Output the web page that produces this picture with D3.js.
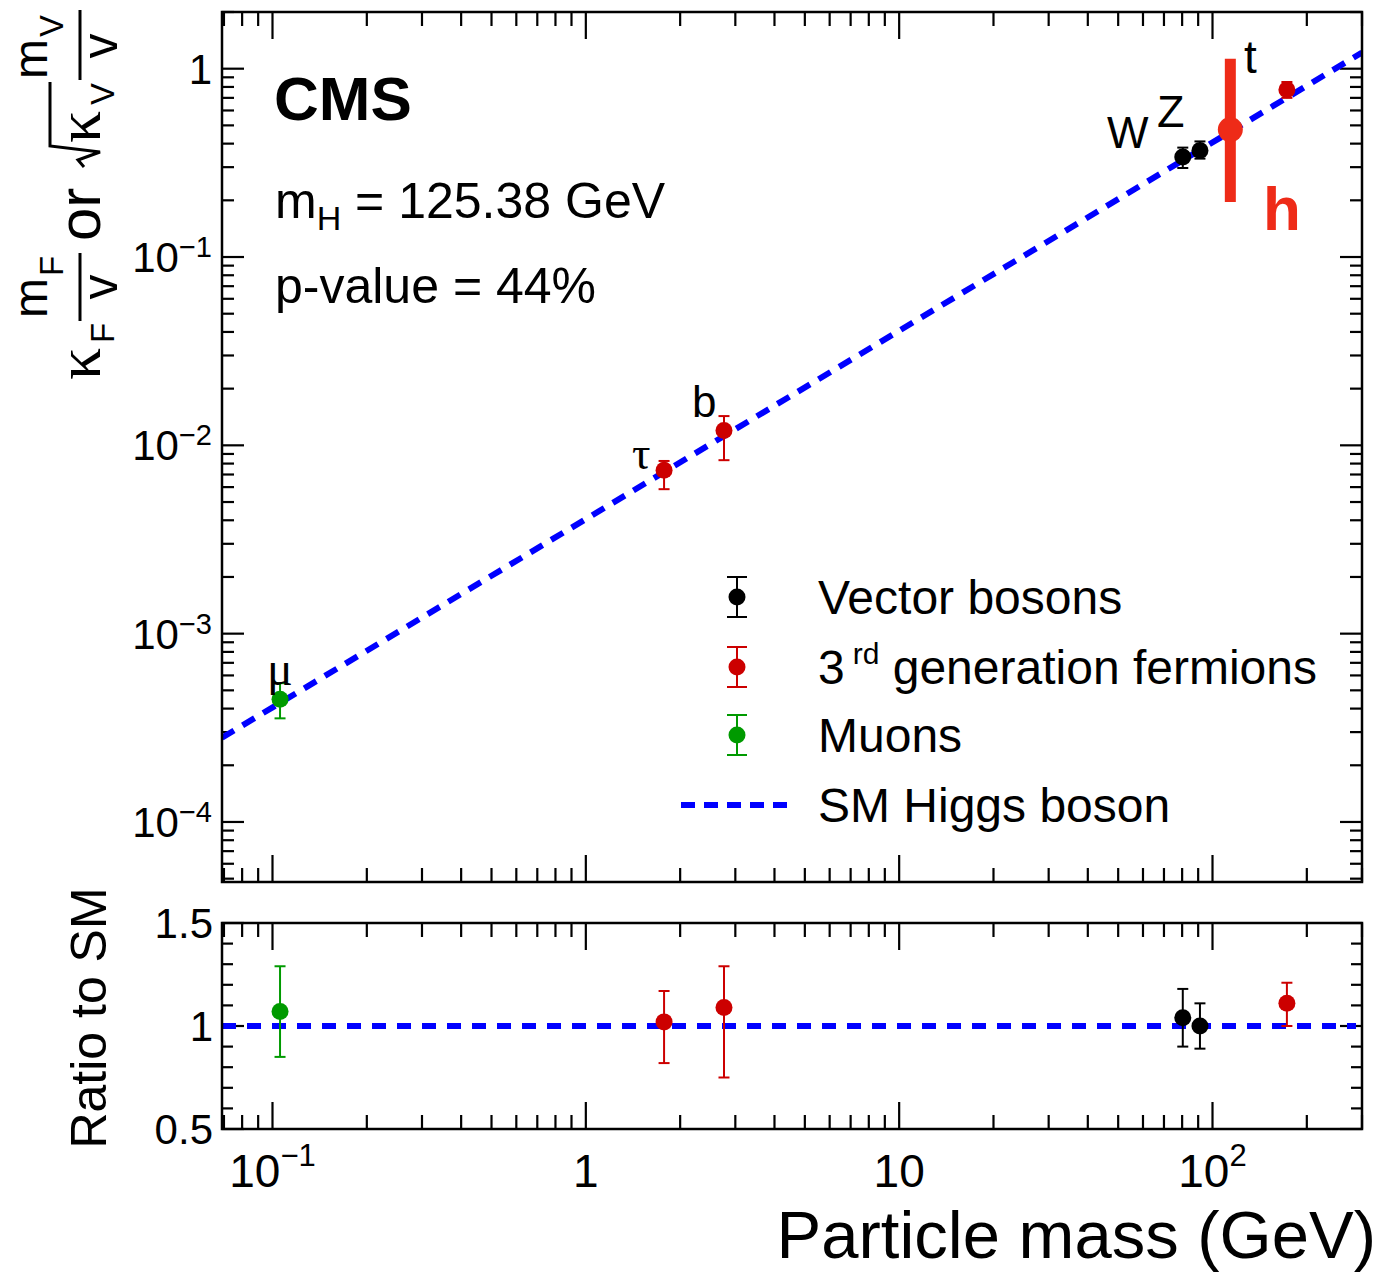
<!DOCTYPE html>
<html>
<head>
<meta charset="utf-8">
<script src="https://cdn.jsdelivr.net/npm/d3@7"></script>
<style>
  body { margin: 0; background: #fff; }
  svg { display: block; font-family: "Liberation Sans", Arial, Helvetica, sans-serif; }
  .greek { font-family: "Liberation Serif", "DejaVu Serif", serif; }
</style>
</head>
<body>
<svg id="chart" width="1383" height="1272"></svg>
<script>
// ---- data ----
var particles = ["μ", "τ", "b", "W", "Z", "t"];
var masses    = [0.1057, 1.777, 2.76, 80.38, 91.19, 172.76];
var groups    = ["muon", "fermion", "fermion", "boson", "boson", "fermion"];

// upper panel: kappa_F m_F / v  or  sqrt(kappa_V) m_V / v
var coupling   = [4.48e-4, 7.38e-3, 1.20e-2, 0.340, 0.368, 0.774];
var couplingHi = [5.46e-4, 8.26e-3, 1.43e-2, 0.381, 0.411, 0.850];
var couplingLo = [3.55e-4, 5.85e-3, 8.34e-3, 0.297, 0.333, 0.700];

// lower panel: ratio to SM
var ratio   = [1.07, 1.02, 1.09, 1.04, 1.00, 1.11];
var ratioHi = [1.29, 1.17, 1.29, 1.18, 1.11, 1.21];
var ratioLo = [0.85, 0.82, 0.75, 0.90, 0.89, 1.00];

// Higgs boson marker (drawn where the figure puts it)
var higgsMass = 114;
var higgsVal = 0.475, higgsLo = 0.196, higgsHi = 1.13;

// SM expectation line (end points)
var smMass  = [0.069, 300];
var smValue = [2.8e-4, 1.218];
var smRatio = [1, 1];

var groupColor = { boson: "#000000", fermion: "#cc0000", muon: "#009a00" };
var legendItems = [
  { key: "boson", text: "Vector bosons" },
  { key: "fermion", text: "3", sup: "rd", rest: " generation fermions" },
  { key: "muon", text: "Muons" }
];

var svg = d3.select("#chart");

// ---- layout ----
var L = 222, R = 1362;
var topT = 12, topB = 882, botT = 923, botB = 1129;

var x = d3.scaleLog().domain([0.069, 300]).range([L, R]);
var yTop = d3.scaleLog().domain([4.8e-5, 2]).range([topB, topT]);
var yBot = d3.scaleLinear().domain([0.5, 1.5]).range([botB, botT]);

var blue = "#0000ff";
var higgsRed = "#ee2b18";

// log ticks helper
function logTicks(scale) {
  var dom = scale.domain(), out = [];
  for (var e = -6; e <= 3; e++) {
    for (var k = 1; k <= 9; k++) {
      var v = k * Math.pow(10, e);
      if (v >= dom[0] && v <= dom[1]) out.push({ v: v, major: k === 1 });
    }
  }
  return out;
}

var xt = logTicks(x);

function drawXTicks(yb, yt) {
  var g = svg.append("g").attr("stroke", "#000").attr("stroke-width", 2.2);
  xt.forEach(function (t) {
    var len = t.major ? 27 : 14;
    var px = x(t.v);
    g.append("line").attr("x1", px).attr("x2", px).attr("y1", yb).attr("y2", yb - len);
    g.append("line").attr("x1", px).attr("x2", px).attr("y1", yt).attr("y2", yt + len);
  });
}

// ---- upper panel ----
drawXTicks(topB, topT);

var ytk = logTicks(yTop);
var gy = svg.append("g").attr("stroke", "#000").attr("stroke-width", 2.2);
ytk.forEach(function (t) {
  var len = t.major ? 22 : 12;
  var py = yTop(t.v);
  gy.append("line").attr("x1", L).attr("x2", L + len).attr("y1", py).attr("y2", py);
  gy.append("line").attr("x1", R).attr("x2", R - len).attr("y1", py).attr("y2", py);
});

// y tick labels (upper)
[[1, null], [0.1, "−1"], [0.01, "−2"], [0.001, "−3"], [0.0001, "−4"]].forEach(function (d) {
  var t = svg.append("text").attr("x", 212).attr("y", yTop(d[0]) + 15)
    .attr("text-anchor", "end").attr("font-size", 42);
  if (d[1] === null) { t.text("1"); }
  else {
    t.append("tspan").text("10");
    t.append("tspan").attr("dy", -15).attr("font-size", 29).text(d[1]);
  }
});

// SM line upper
svg.append("clipPath").attr("id", "clipTop")
  .append("rect").attr("x", L).attr("y", topT).attr("width", R - L).attr("height", topB - topT);
svg.append("line")
  .attr("clip-path", "url(#clipTop)")
  .attr("x1", x(smMass[0])).attr("y1", yTop(smValue[0]))
  .attr("x2", x(smMass[1])).attr("y2", yTop(smValue[1]))
  .attr("stroke", blue).attr("stroke-width", 6).attr("stroke-dasharray", "14,10");

// points with error bars
function drawPoints(yScale, vals, lo, hi) {
  var g = svg.append("g");
  masses.forEach(function (m, i) {
    var c = groupColor[groups[i]];
    var px = x(m);
    g.append("line").attr("x1", px).attr("x2", px)
      .attr("y1", yScale(lo[i])).attr("y2", yScale(hi[i]))
      .attr("stroke", c).attr("stroke-width", 2);
    [lo[i], hi[i]].forEach(function (v) {
      g.append("line").attr("x1", px - 5.5).attr("x2", px + 5.5)
        .attr("y1", yScale(v)).attr("y2", yScale(v))
        .attr("stroke", c).attr("stroke-width", 2);
    });
    g.append("circle").attr("cx", px).attr("cy", yScale(vals[i])).attr("r", 8.5).attr("fill", c);
  });
}
drawPoints(yTop, coupling, couplingLo, couplingHi);

// Higgs marker
svg.append("line")
  .attr("x1", x(higgsMass)).attr("x2", x(higgsMass))
  .attr("y1", yTop(higgsLo)).attr("y2", yTop(higgsHi))
  .attr("stroke", higgsRed).attr("stroke-width", 11);
svg.append("circle").attr("cx", x(higgsMass)).attr("cy", yTop(higgsVal)).attr("r", 12.5).attr("fill", higgsRed);

// particle labels
var labelPos = {
  "μ": [267, 685, 48], "τ": [632, 469, 46], "b": [692, 417, 44],
  "W": [1107, 148, 44], "Z": [1157, 127, 45], "t": [1244, 73, 46]
};
particles.forEach(function (p) {
  var lp = labelPos[p];
  svg.append("text").attr("x", lp[0]).attr("y", lp[1]).attr("font-size", lp[2])
    .attr("class", /[a-zA-Z]/.test(p) ? null : "greek").text(p);
});
svg.append("text").attr("x", 1263).attr("y", 230).attr("font-size", 62)
  .attr("font-weight", "bold").attr("fill", higgsRed).text("h");

// CMS + info text
svg.append("text").attr("x", 274).attr("y", 120).attr("font-size", 62)
  .attr("font-weight", "bold").text("CMS");
var mh = svg.append("text").attr("x", 275).attr("y", 218).attr("font-size", 50);
mh.append("tspan").text("m");
mh.append("tspan").attr("dy", 12).attr("font-size", 34).text("H");
mh.append("tspan").attr("dy", -12).text(" = 125.38 GeV");
svg.append("text").attr("x", 275).attr("y", 303).attr("font-size", 50).text("p-value = 44%");

// legend
var legY = [597, 667, 735];
legendItems.forEach(function (it, i) {
  var c = groupColor[it.key], cy = legY[i];
  svg.append("line").attr("x1", 737).attr("x2", 737).attr("y1", cy - 20).attr("y2", cy + 20)
    .attr("stroke", c).attr("stroke-width", 2);
  [cy - 20, cy + 20].forEach(function (yy) {
    svg.append("line").attr("x1", 727).attr("x2", 747).attr("y1", yy).attr("y2", yy)
      .attr("stroke", c).attr("stroke-width", 2);
  });
  svg.append("circle").attr("cx", 737).attr("cy", cy).attr("r", 8.5).attr("fill", c);
  var t = svg.append("text").attr("x", 818).attr("y", cy + 17).attr("font-size", 48);
  t.append("tspan").text(it.text);
  if (it.sup) {
    t.append("tspan").attr("dx", 8).attr("dy", -20).attr("font-size", 30).text(it.sup);
    t.append("tspan").attr("dy", 20).text(it.rest);
  }
});
svg.append("line").attr("x1", 681).attr("x2", 795).attr("y1", 805).attr("y2", 805)
  .attr("stroke", blue).attr("stroke-width", 6).attr("stroke-dasharray", "14,9");
svg.append("text").attr("x", 818).attr("y", 822).attr("font-size", 48).text("SM Higgs boson");

// upper y title (rotated)
var yt = svg.append("g").attr("transform", "rotate(-90)");
function rt(txt, rx, ry, size, anchor, cls) {
  return yt.append("text").attr("x", rx).attr("y", ry).attr("font-size", size)
    .attr("class", cls || null)
    .attr("text-anchor", anchor || "start").text(txt);
}
rt("κ", -380, 100, 64, "start", "greek");
rt("F", -343, 114, 33);
rt("m", -318, 47, 48);
rt("F", -276, 63, 33);
yt.append("line").attr("x1", -321).attr("x2", -253).attr("y1", 80).attr("y2", 80)
  .attr("stroke", "#000").attr("stroke-width", 3);
rt("v", -287, 117, 50, "middle");
rt("or", -241, 100, 60);
yt.append("path").attr("d", "M-167,84 L-160,78 L-152,100 L-146,50 L-82,50")
  .attr("fill", "none").attr("stroke", "#000").attr("stroke-width", 3);
rt("κ", -143, 100, 64, "start", "greek");
rt("V", -105, 114, 33);
rt("m", -79, 47, 48);
rt("V", -37, 63, 33);
yt.append("line").attr("x1", -80).attr("x2", -10).attr("y1", 80).attr("y2", 80)
  .attr("stroke", "#000").attr("stroke-width", 3);
rt("v", -46, 117, 50, "middle");

// frame upper
svg.append("rect").attr("x", L).attr("y", topT).attr("width", R - L).attr("height", topB - topT)
  .attr("fill", "none").attr("stroke", "#000").attr("stroke-width", 2.5);

// ---- lower panel ----
drawXTicks(botB, botT);
var gyb = svg.append("g").attr("stroke", "#000").attr("stroke-width", 2.2);
d3.range(5, 16).forEach(function (k) {
  var v = k / 10, major = (k % 5 === 0);
  var len = major ? 22 : 11;
  gyb.append("line").attr("x1", L).attr("x2", L + len).attr("y1", yBot(v)).attr("y2", yBot(v));
  gyb.append("line").attr("x1", R).attr("x2", R - len).attr("y1", yBot(v)).attr("y2", yBot(v));
});
[[1.5, "1.5"], [1, "1"], [0.5, "0.5"]].forEach(function (d) {
  svg.append("text").attr("x", 213).attr("y", yBot(d[0]) + 15).attr("text-anchor", "end")
    .attr("font-size", 42).text(d[1]);
});

svg.append("line")
  .attr("x1", L).attr("x2", R - 6)
  .attr("y1", yBot(smRatio[0])).attr("y2", yBot(smRatio[1]))
  .attr("stroke", blue).attr("stroke-width", 6).attr("stroke-dasharray", "14,11");

drawPoints(yBot, ratio, ratioLo, ratioHi);

svg.append("rect").attr("x", L).attr("y", botT).attr("width", R - L).attr("height", botB - botT)
  .attr("fill", "none").attr("stroke", "#000").attr("stroke-width", 2.5);

svg.append("text").attr("transform", "translate(106," + 1018 + ") rotate(-90)")
  .attr("text-anchor", "middle").attr("font-size", 50).text("Ratio to SM");

// x tick labels
[[0.1, "−1"], [1, null], [10, null], [100, "2"]].forEach(function (d) {
  var t = svg.append("text").attr("x", x(d[0])).attr("y", 1187)
    .attr("text-anchor", "middle").attr("font-size", 46);
  if (d[1] === null) { t.text(d[0] === 1 ? "1" : "10"); }
  else {
    t.append("tspan").text("10");
    t.append("tspan").attr("dy", -21).attr("font-size", 31).text(d[1]);
  }
});

svg.append("text").attr("x", 1376).attr("y", 1258).attr("text-anchor", "end")
  .attr("font-size", 67).text("Particle mass (GeV)");
</script>
</body>
</html>
